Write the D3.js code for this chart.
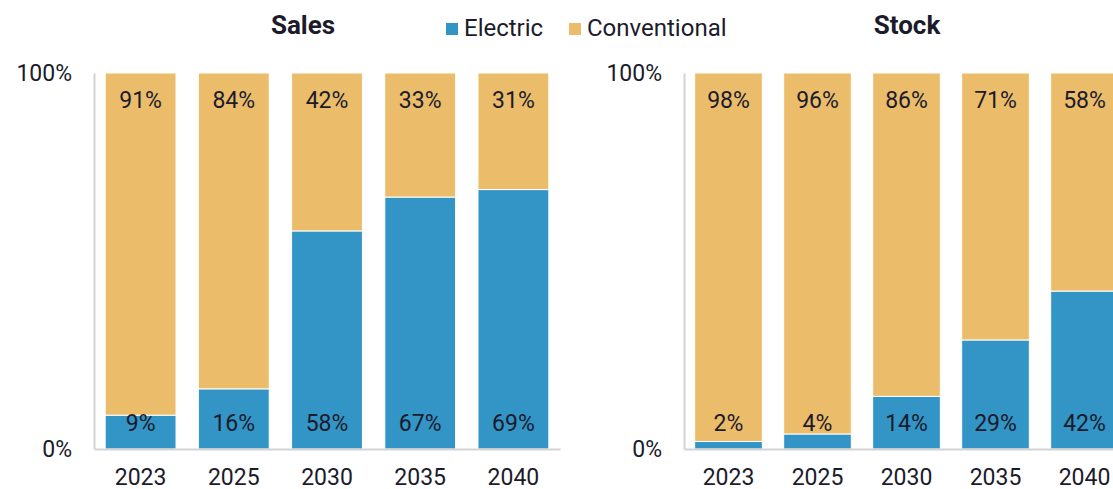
<!DOCTYPE html>
<html>
<head>
<meta charset="utf-8">
<script src="https://cdn.jsdelivr.net/npm/d3@7"></script>
<style>
  html, body { margin: 0; padding: 0; background: #fff; overflow: hidden; }
  svg { display: block; font-family: Roboto, "Noto Sans", sans-serif; }
</style>
</head>
<body>
<svg id="chart" width="1113" height="489"></svg>
<script>
// Vehicle mix by year, shares in percent
const years = ["2023", "2025", "2030", "2035", "2040"];
const salesElectric = [9, 16, 58, 67, 69];
const salesConventional = [91, 84, 42, 33, 31];
const stockElectric = [2, 4, 14, 29, 42];
const stockConventional = [98, 96, 86, 71, 58];
const yTicks = [0, 100];
const seriesNames = ["Electric", "Conventional"];

const colors = { Electric: "#3394c6", Conventional: "#ebbd6b" };
const textColor = "#1b1b2b";
const axisColor = "#d3d3d3";
const fontSize = 23;

const svg = d3.select("#chart");
const plotTop = 73, plotBottom = 449;

const panels = [
  { title: "Sales", titleX: 303, x0: 94, x1: 560, electric: salesElectric, conventional: salesConventional },
  { title: "Stock", titleX: 907, x0: 684, x1: 1129, electric: stockElectric, conventional: stockConventional }
];

const y = d3.scaleLinear().domain([0, 100]).range([plotBottom, plotTop]);

panels.forEach(p => {
  const g = svg.append("g");
  const x = d3.scaleBand().domain(years).range([p.x0, p.x1]).paddingInner(0.24).paddingOuter(0.12);

  const rows = years.map((yr, i) => ({ year: yr, Electric: p.electric[i], Conventional: p.conventional[i] }));
  const stacked = d3.stack().keys(seriesNames)(rows);

  // stacked segments
  stacked.forEach(layer => {
    g.append("g").selectAll("rect").data(layer).join("rect")
      .attr("x", d => x(d.data.year))
      .attr("width", x.bandwidth())
      .attr("y", d => y(d[1]))
      .attr("height", d => y(d[0]) - y(d[1]))
      .attr("fill", colors[layer.key])
      .attr("stroke", "#fff")
      .attr("stroke-width", 1);
  });

  // value labels: electric near the base, conventional near the top
  g.append("g").selectAll("text").data(rows).join("text")
    .attr("x", d => x(d.year) + x.bandwidth() / 2)
    .attr("y", y(0) - 26)
    .attr("text-anchor", "middle").attr("dominant-baseline", "central")
    .attr("font-size", fontSize).attr("fill", textColor)
    .text(d => d.Electric + "%");
  g.append("g").selectAll("text").data(rows).join("text")
    .attr("x", d => x(d.year) + x.bandwidth() / 2)
    .attr("y", y(100) + 27)
    .attr("text-anchor", "middle").attr("dominant-baseline", "central")
    .attr("font-size", fontSize).attr("fill", textColor)
    .text(d => d.Conventional + "%");

  // axes
  const yAxis = g.append("g").attr("transform", `translate(${p.x0},0)`)
    .call(d3.axisLeft(y).tickValues(yTicks).tickSize(0).tickPadding(22).tickFormat(d => d + "%"));
  yAxis.select(".domain").attr("stroke", axisColor).attr("stroke-width", 2);
  yAxis.selectAll("text").attr("font-size", fontSize).attr("fill", textColor).attr("font-family", "Roboto");

  const xAxis = g.append("g").attr("transform", `translate(0,${plotBottom})`)
    .call(d3.axisBottom(x).tickSize(0).tickPadding(20));
  xAxis.select(".domain").attr("stroke", axisColor).attr("stroke-width", 2);
  xAxis.selectAll("text").attr("font-size", fontSize).attr("fill", textColor).attr("font-family", "Roboto");

  svg.append("text")
    .attr("x", p.titleX).attr("y", 25)
    .attr("text-anchor", "middle").attr("dominant-baseline", "central")
    .attr("font-size", 26).attr("font-weight", "bold").attr("fill", textColor)
    .text(p.title);
});

// legend
const legend = svg.append("g");
const legendX = [446, 569];
seriesNames.forEach((name, i) => {
  legend.append("rect").attr("x", legendX[i]).attr("y", 23).attr("width", 12).attr("height", 12)
    .attr("fill", colors[name]);
  legend.append("text").attr("x", legendX[i] + 18).attr("y", 28)
    .attr("dominant-baseline", "central").attr("font-size", 24).attr("fill", textColor)
    .text(name);
});
</script>
</body>
</html>
